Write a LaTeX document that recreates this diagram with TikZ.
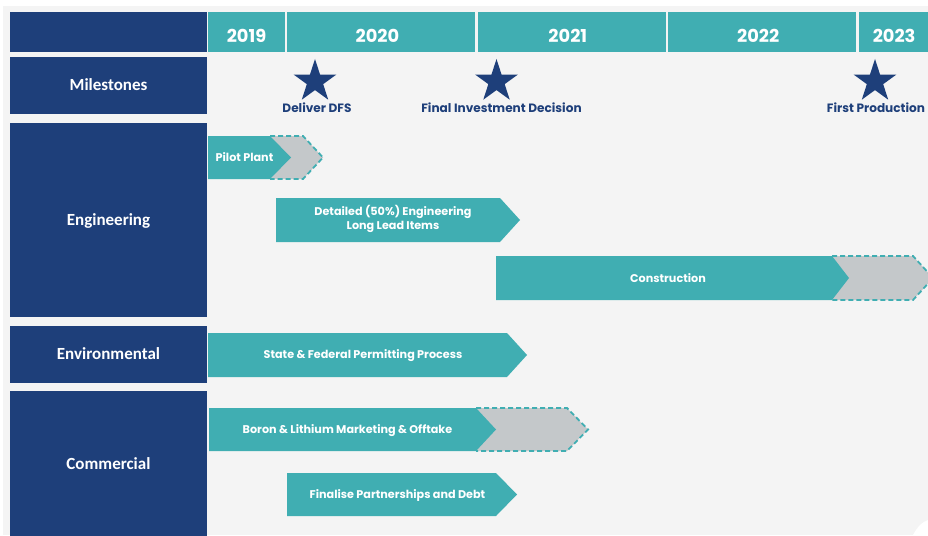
\documentclass[tikz,border=0pt]{standalone}
\usepackage{fontspec}
\setmainfont{Poppins}
\newfontfamily\labelfont{Carlito}
\usetikzlibrary{shapes.geometric,positioning}
\definecolor{navy}{RGB}{30,63,122}
\definecolor{barteal}{RGB}{64,174,178}
\definecolor{extgray}{RGB}{196,200,202}
\definecolor{bggray}{RGB}{244,244,244}
\tikzset{
rowbox/.style = {fill=navy, text=white, minimum width=197pt, inner sep=0pt, font=\labelfont\bfseries\fontsize{17}{18}\selectfont, text height=10.9pt, text depth=0pt},
yearcell/.style = {fill=barteal, text=white, minimum height=40pt, inner sep=0pt, font=\bfseries\fontsize{17.8}{20}\selectfont, text height=20.5pt, text depth=0pt},
yearleft/.style = {execute at end node={\hspace*{8pt}}},
bar/.style = {fill=barteal},
barext/.style = {fill=extgray, draw=barteal, line width=1.8pt, dash pattern=on 5pt off 3pt},
bartext/.style = {text=white, font=\bfseries\fontsize{11.2}{14}\selectfont, align=center, inner sep=0pt},
onebar/.style = {text height=7.8pt, text depth=0pt},
milestar/.style = {star, star points=5, star point ratio=2.618, fill=navy, minimum size=45pt, inner sep=0pt},
milelabel/.style = {text=navy, font=\bfseries\fontsize{12.1}{15}\selectfont, inner sep=0pt, text height=8.4pt, text depth=0pt}
}
\begin{document}
\begin{tikzpicture}[x=1pt, y=-1pt]
    \useasboundingbox (0,0) rectangle (928,535);
    \fill[bggray] (3,6) rectangle (928,535);
    \fill[white] (913,535) .. controls (918,526) and (922,522) .. (928,520) -- (928,535) -- cycle;

    % row headers
    \node [rowbox, minimum height=40pt] (corner) at (108.5,32) {};
    \node [rowbox, minimum height=57pt] (milestones) at (108.5,85.5) {Milestones};
    \node [rowbox, minimum height=194pt] (engineering) at (108.5,220) {Engineering};
    \node [rowbox, minimum height=57pt] (environmental) at (108.5,354.5) {Environmental};
    \node [rowbox, minimum height=146pt] (commercial) at (108.5,464) {Commercial};

    % years
    \node [yearcell, minimum width=77pt] (y2019) at (246.5,32) {2019};
    \node [yearcell, yearleft, minimum width=188pt, right=2pt of y2019] (y2020) {2020};
    \node [yearcell, yearleft, minimum width=188pt, right=2pt of y2020] (y2021) {2021};
    \node [yearcell, yearleft, minimum width=188pt, right=2pt of y2021] (y2022) {2022};
    \node [yearcell, minimum width=71pt, right=2pt of y2022] (y2023) {2023};

    % milestones
    \node [milestar] (dfs) at (315,81.5) {};
    \node [milestar] (fid) at (496.5,81.5) {};
    \node [milestar] (firstprod) at (875,81.5) {};
    \node [milelabel] (dfslabel) at (317,108) {Deliver DFS};
    \node [milelabel] (fidlabel) at (501.5,108) {Final Investment Decision};
    \node [milelabel] (prodlabel) at (876,108) {First Production};

    % engineering
    \filldraw [barext] (270,136) -- (303,136) -- (323,157.5) -- (303,179) -- (270,179);
    \fill [bar] (208,136) -- (270,136) -- (291,157.5) -- (270,179) -- (208,179) -- cycle;
    \fill [bar] (276,198) -- (500,198) -- (520,220) -- (500,242) -- (276,242) -- cycle;
    \filldraw [barext] (832,256) -- (913,256) -- (933,278) -- (913,300) -- (832,300);
    \fill [bar] (496,256) -- (832,256) -- (849,278) -- (832,300) -- (496,300) -- cycle;

    % environmental
    \fill [bar] (208,333) -- (507,333) -- (527,355) -- (507,377) -- (208,377) -- cycle;

    % commercial
    \filldraw [barext] (476,408) -- (567,408) -- (588,429.5) -- (567,451) -- (476,451);
    \fill [bar] (209,408) -- (476,408) -- (496,429.5) -- (476,451) -- (209,451) -- cycle;
    \fill [bar] (287,473) -- (496,473) -- (517,494.5) -- (496,516) -- (287,516) -- cycle;

    \node [bartext, onebar] (pilot) at (244.5,158) {Pilot Plant};
    \node [bartext] (detailed) at (393,219) {Detailed (50\%) Engineering\\Long Lead Items};
    \node [bartext, onebar] (construction) at (668,278.5) {Construction};
    \node [bartext, onebar] (permitting) at (363,355) {State \& Federal Permitting Process};
    \node [bartext, onebar] (marketing) at (347.5,430) {Boron \& Lithium Marketing \& Offtake};
    \node [bartext, onebar] (partners) at (397.5,494.5) {Finalise Partnerships and Debt};
\end{tikzpicture}
\end{document}
